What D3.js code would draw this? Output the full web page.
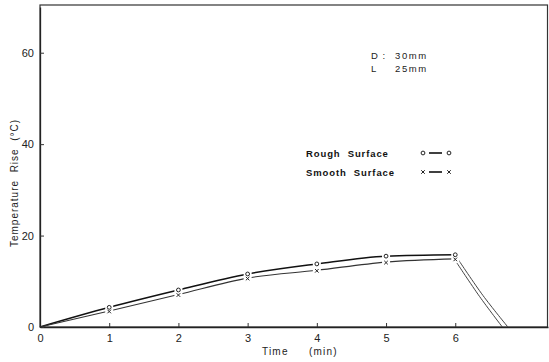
<!DOCTYPE html>
<html>
<head>
<meta charset="utf-8">
<script src="https://cdn.jsdelivr.net/npm/d3@7"></script>
<style>
  body { margin: 0; background: #fff; }
  svg { display: block; font-family: "Liberation Sans", Arial, sans-serif; }
</style>
</head>
<body>
<div id="chart"></div>
<script>
// Chart size and margins
const width = 549;
const height = 362;
const margin = {left: 40, right: 1, bottom: 35, top: 7};

// Data
const minutes = [0, 1, 2, 3, 4, 5, 6];
const roughRise = [0, 4.3, 8.1, 11.6, 13.8, 15.5, 15.8];
const smoothRise = [0, 3.5, 7.1, 10.7, 12.4, 14.2, 14.9];
// cooling after heater off (no markers)
const roughCoolTime = [6.05, 6.4, 6.76];
const roughCoolRise = [14.6, 6.9, 0];
const smoothCoolTime = [6.02, 6.35, 6.68];
const smoothCoolRise = [14.1, 6.7, 0];

const xTicks = [0, 1, 2, 3, 4, 5, 6];
const yTicks = [0, 20, 40, 60];
const specLabels = ["D :", "L"];
const specValues = ["30mm", "25mm"];
const seriesNames = ["Rough  Surface", "Smooth  Surface"];

const svg = d3.select("#chart")
  .append("svg")
  .attr("width", width)
  .attr("height", height);

// Scales
let xScale = d3.scaleLinear()
  .domain([0, 7.34])
  .range([margin.left, width - margin.right]);

let yScale = d3.scaleLinear()
  .domain([0, 70])
  .range([height - margin.bottom, margin.top]);

// Frame
svg.append("rect")
  .attr("x", margin.left)
  .attr("y", margin.top - 2)
  .attr("width", width - margin.right - margin.left - 0.5)
  .attr("height", height - margin.bottom - margin.top + 2)
  .attr("fill", "none")
  .attr("stroke", "#333")
  .attr("stroke-width", 1.2);

// Axes with inward ticks
const xAxis = svg.append("g")
  .attr("transform", `translate(0,${height - margin.bottom})`)
  .call(d3.axisBottom(xScale).tickValues(xTicks).tickSizeInner(-4).tickSizeOuter(0).tickPadding(7));

const yAxis = svg.append("g")
  .attr("transform", `translate(${margin.left},0)`)
  .call(d3.axisLeft(yScale).tickValues(yTicks).tickSizeInner(-4).tickSizeOuter(0).tickPadding(6));

[xAxis, yAxis].forEach(function(a) {
  a.select(".domain").attr("stroke", "#222").attr("stroke-width", 1.3);
  a.selectAll(".tick line").attr("stroke", "#333");
  a.selectAll("text").attr("font-size", "11px").attr("fill", "#222")
    .attr("font-family", "Liberation Sans, Arial, sans-serif");
});

// Axis titles
svg.append("text")
  .attr("x", 262)
  .attr("y", 355)
  .attr("font-size", "10px")
  .attr("letter-spacing", "1.2px")
  .attr("fill", "#222")
  .text("Time");

svg.append("text")
  .attr("x", 309)
  .attr("y", 355)
  .attr("font-size", "10px")
  .attr("letter-spacing", "1.2px")
  .attr("fill", "#222")
  .text("(min)");

svg.append("text")
  .attr("transform", "rotate(-90)")
  .attr("x", -183)
  .attr("y", 18)
  .attr("text-anchor", "middle")
  .attr("font-size", "10px")
  .attr("letter-spacing", "1px")
  .attr("fill", "#222")
  .style("white-space", "pre")
  .text("Temperature  Rise  (°C)");

// Lines
const line = d3.line()
  .x(d => xScale(d[0]))
  .y(d => yScale(d[1]))
  .curve(d3.curveMonotoneX);

const coolLine = d3.line()
  .x(d => xScale(d[0]))
  .y(d => yScale(d[1]))
  .curve(d3.curveCatmullRom);

const series = [
  {rise: roughRise, coolT: roughCoolTime, coolR: roughCoolRise, color: "#111", w: 1.5},
  {rise: smoothRise, coolT: smoothCoolTime, coolR: smoothCoolRise, color: "#333", w: 1.1}
];

series.forEach(function(s) {
  svg.append("path")
    .datum(minutes.map((m, i) => [m, s.rise[i]]))
    .attr("d", line)
    .attr("fill", "none")
    .attr("stroke", s.color)
    .attr("stroke-width", s.w);

  svg.append("path")
    .datum(s.coolT.map((m, i) => [m, s.coolR[i]]))
    .attr("d", coolLine)
    .attr("fill", "none")
    .attr("stroke", "#444")
    .attr("stroke-width", 1);
});

// white gaps round the markers (as in the drawing)
const markerIdx = d3.range(1, minutes.length);
svg.selectAll(".gap")
  .data(markerIdx)
  .enter()
  .append("rect")
    .attr("class", "gap")
    .attr("x", i => xScale(minutes[i]) - 4)
    .attr("y", i => yScale(roughRise[i]) - 4)
    .attr("width", 8)
    .attr("height", i => yScale(smoothRise[i]) - yScale(roughRise[i]) + 8)
    .attr("fill", "#fff");

// Rough markers: small circles
svg.selectAll(".rough")
  .data(markerIdx)
  .enter()
  .append("circle")
    .attr("class", "rough")
    .attr("cx", i => xScale(minutes[i]))
    .attr("cy", i => yScale(roughRise[i]))
    .attr("r", 1.9)
    .attr("fill", "#fff")
    .attr("stroke", "#222")
    .attr("stroke-width", 1);

// Smooth markers: small crosses
const cross = d3.symbol().type(d3.symbolX).size(10);
svg.selectAll(".smooth")
  .data(markerIdx)
  .enter()
  .append("path")
    .attr("class", "smooth")
    .attr("transform", i => `translate(${xScale(minutes[i])},${yScale(smoothRise[i]) + 0.5})`)
    .attr("d", cross)
    .attr("fill", "none")
    .attr("stroke", "#222")
    .attr("stroke-width", 1);

// Specimen dimensions
specLabels.forEach(function(lab, i) {
  svg.append("text")
    .attr("x", 371)
    .attr("y", 59 + i * 13)
    .attr("font-size", "9.5px")
    .attr("letter-spacing", "1px")
    .attr("fill", "#222")
    .text(lab);
  svg.append("text")
    .attr("x", 395)
    .attr("y", 59 + i * 13)
    .attr("font-size", "9.5px")
    .attr("letter-spacing", "1.6px")
    .attr("fill", "#222")
    .text(specValues[i]);
});

// Legend
const legend = svg.selectAll(".legend")
  .data(seriesNames)
  .enter()
  .append("g")
    .attr("class", "legend")
    .attr("transform", (d, i) => `translate(0,${153 + i * 19})`);

legend.append("text")
  .attr("x", 306)
  .attr("y", 3.5)
  .attr("font-size", "9.5px")
  .attr("font-weight", "bold")
  .attr("letter-spacing", "0.9px")
  .attr("fill", "#111")
  .style("white-space", "pre")
  .text(d => d);

legend.append("line")
  .attr("x1", 429)
  .attr("x2", 442)
  .attr("y1", 0)
  .attr("y2", 0)
  .attr("stroke", "#111")
  .attr("stroke-width", 1.6);

legend.each(function(d, i) {
  const g = d3.select(this);
  [423, 449].forEach(function(x) {
    if (i === 0) {
      g.append("circle").attr("cx", x).attr("cy", 0).attr("r", 1.9)
        .attr("fill", "#fff").attr("stroke", "#222").attr("stroke-width", 1);
    } else {
      g.append("path").attr("transform", `translate(${x},0)`).attr("d", cross)
        .attr("fill", "none").attr("stroke", "#222").attr("stroke-width", 1);
    }
  });
});
</script>
</body>
</html>
